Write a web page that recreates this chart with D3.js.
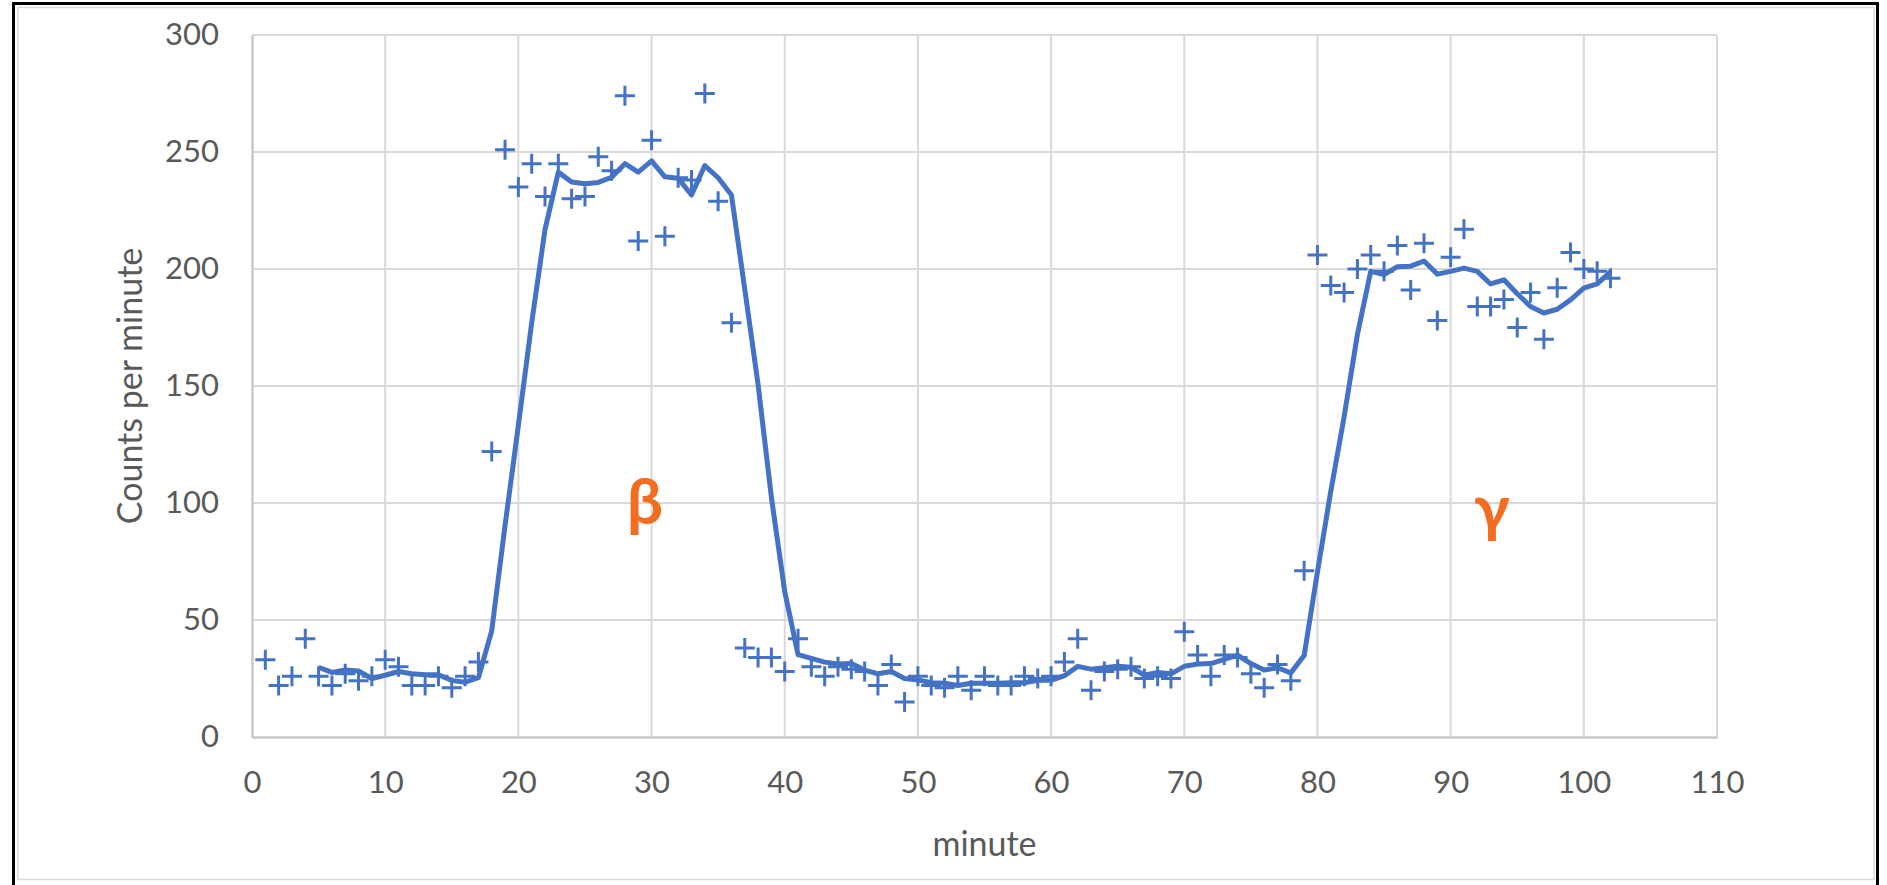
<!DOCTYPE html>
<html>
<head>
<meta charset="utf-8">
<script src="https://cdn.jsdelivr.net/npm/d3@7"></script>
<style>
  body { margin: 0; background: #fff; }
  svg { display: block; }
</style>
</head>
<body>
<svg id="svg"></svg>
<script>
// counts per minute
const minutes = [1, 2, 3, 4, 5, 6, 7, 8, 9, 10, 11, 12, 13, 14, 15, 16, 17, 18, 19, 20,
    21, 22, 23, 24, 25, 26, 27, 28, 29, 30, 31, 32, 33, 34, 35, 36, 37, 38, 39, 40,
    41, 42, 43, 44, 45, 46, 47, 48, 49, 50, 51, 52, 53, 54, 55, 56, 57, 58, 59, 60,
    61, 62, 63, 64, 65, 66, 67, 68, 69, 70, 71, 72, 73, 74, 75, 76, 77, 78, 79, 80,
    81, 82, 83, 84, 85, 86, 87, 88, 89, 90, 91, 92, 93, 94, 95, 96, 97, 98, 99, 100,
    101, 102];
const counts = [33, 22, 26, 42, 26, 22, 27, 24, 26, 33, 30, 22, 22, 26, 21, 26, 32, 122, 251, 235,
    245, 231, 245, 230, 231, 248, 242, 274, 212, 255, 214, 239, 238, 275, 229, 177, 38, 34, 34, 28,
    42, 30, 26, 30, 29, 28, 22, 31, 15, 26, 22, 21, 26, 20, 26, 22, 22, 26, 25, 26,
    32, 42, 20, 28, 29, 30, 25, 26, 25, 45, 35, 26, 35, 34, 27, 21, 31, 24, 71, 206,
    193, 190, 200, 206, 199, 210, 191, 211, 178, 205, 217, 184, 184, 187, 175, 190, 170, 192, 207, 200,
    199, 196];

// smoothed line (5 minute moving average trendline)
const avgMinutes = [5, 6, 7, 8, 9, 10, 11, 12, 13, 14, 15, 16, 17, 18, 19, 20,
    21, 22, 23, 24, 25, 26, 27, 28, 29, 30, 31, 32, 33, 34, 35, 36, 37, 38, 39, 40,
    41, 42, 43, 44, 45, 46, 47, 48, 49, 50, 51, 52, 53, 54, 55, 56, 57, 58, 59, 60,
    61, 62, 63, 64, 65, 66, 67, 68, 69, 70, 71, 72, 73, 74, 75, 76, 77, 78, 79, 80,
    81, 82, 83, 84, 85, 86, 87, 88, 89, 90, 91, 92, 93, 94, 95, 96, 97, 98, 99, 100,
    101, 102];
const avgCounts = [29.8, 27.6, 28.6, 28.2, 25.0, 26.4, 28.0, 27.0, 26.6, 26.6, 24.2, 23.4, 25.4, 45.4, 90.4, 133.2,
    177.0, 216.8, 241.4, 237.2, 236.4, 237.0, 239.2, 245.0, 241.4, 246.2, 239.4, 238.8, 231.6, 244.2, 239.0, 231.6, 191.4, 150.6, 102.4, 62.2,
    35.2, 33.6, 32.0, 31.2, 31.4, 28.6, 27.0, 28.0, 25.0, 24.4, 23.2, 23.0, 22.0, 23.0, 23.0, 23.0, 23.2, 23.2, 24.2, 24.2,
    26.2, 30.2, 29.0, 29.6, 30.2, 29.8, 26.4, 27.6, 27.0, 30.2, 31.2, 31.4, 33.2, 35.0, 31.4, 28.6, 29.6, 27.4, 34.8, 70.6,
    105.0, 136.8, 172.0, 199.0, 197.6, 201.0, 201.2, 203.4, 197.8, 199.0, 200.4, 199.0, 193.6, 195.4, 189.4, 184.0, 181.2, 182.8, 186.8, 191.8,
    193.6, 198.8];

const xTicks = [0, 10, 20, 30, 40, 50, 60, 70, 80, 90, 100, 110];
const yTicks = [0, 50, 100, 150, 200, 250, 300];

let svg = d3.select("#svg");
const width = 1887;
const height = 885;
const blue = "#4472C4";
const orange = "#F26D1F";
const font = "Lato, 'Open Sans', sans-serif";

function drawFrame() {
    svg.attr("width", width).attr("height", height);

    // outer black box (bottom edge is cropped off in the screenshot)
    svg.append("rect")
        .attr("x", 13.5)
        .attr("y", 3.5)
        .attr("width", 1864)
        .attr("height", 900)
        .attr("fill", "#fff")
        .attr("stroke", "#000")
        .attr("stroke-width", 3);

    // chart area border
    svg.append("rect")
        .attr("x", 18)
        .attr("y", 7.5)
        .attr("width", 1856)
        .attr("height", 872)
        .attr("fill", "none")
        .attr("stroke", "#d9d9d9")
        .attr("stroke-width", 1.5);
}

function drawChart() {
    const margin = { top: 35, right: 170, bottom: 148, left: 252 };
    let chartWidth = width - margin.left - margin.right;
    let chartHeight = height - margin.top - margin.bottom;

    let chart = svg.append("g")
        .attr("transform", "translate(" + margin.left + "," + margin.top + ")");

    let xScale = d3.scaleLinear()
        .domain([0, 110])
        .range([0, chartWidth]);

    let yScale = d3.scaleLinear()
        .domain([0, 300])
        .range([chartHeight, 0]);

    // gridlines
    chart.append("g")
        .selectAll("line")
        .data(xTicks.filter(d => d > 0))
        .enter().append("line")
        .attr("x1", d => xScale(d))
        .attr("x2", d => xScale(d))
        .attr("y1", 0)
        .attr("y2", chartHeight)
        .attr("stroke", "#d9d9d9")
        .attr("stroke-width", 2);

    chart.append("g")
        .selectAll("line")
        .data(yTicks.filter(d => d > 0))
        .enter().append("line")
        .attr("x1", 0)
        .attr("x2", chartWidth)
        .attr("y1", d => yScale(d))
        .attr("y2", d => yScale(d))
        .attr("stroke", "#d9d9d9")
        .attr("stroke-width", 2);

    // Add x-axis
    let xAxis = chart.append("g")
        .attr("class", "x-axis")
        .attr("transform", "translate(0," + chartHeight + ")")
        .call(d3.axisBottom(xScale).tickValues(xTicks).tickSize(0).tickPadding(34));

    // Add y-axis
    let yAxis = chart.append("g")
        .attr("class", "y-axis")
        .call(d3.axisLeft(yScale).tickValues(yTicks).tickSize(0).tickPadding(33));

    [xAxis, yAxis].forEach(a => {
        a.select(".domain").attr("stroke", "#c8c8c8").attr("stroke-width", 2.5);
        a.selectAll("text")
            .style("font-family", font)
            .style("font-size", "31px")
            .style("fill", "#595959");
    });

    // moving average line
    const avgLine = d3.line()
        .x((d, i) => xScale(avgMinutes[i]))
        .y(d => yScale(d));

    chart.append("path")
        .datum(avgCounts)
        .attr("d", avgLine)
        .attr("fill", "none")
        .attr("stroke", blue)
        .attr("stroke-width", 5)
        .attr("stroke-linejoin", "round");

    // plus markers
    chart.selectAll(".pt")
        .data(counts)
        .enter().append("path")
        .attr("class", "pt")
        .attr("transform", (d, i) => "translate(" + xScale(minutes[i]) + "," + yScale(d) + ")")
        .attr("d", "M-10,0H10M0,-10V10")
        .attr("stroke", blue)
        .attr("stroke-width", 3)
        .attr("fill", "none");

    // axis titles
    svg.append("text")
        .attr("text-anchor", "middle")
        .attr("x", margin.left + xScale(55))
        .attr("y", 856)
        .style("font-size", "34px")
        .style("fill", "#595959")
        .style("font-family", font)
        .text("minute");

    svg.append("text")
        .attr("text-anchor", "middle")
        .attr("transform", "rotate(-90)")
        .attr("x", -(margin.top + chartHeight / 2))
        .attr("y", 142)
        .style("font-size", "34px")
        .style("fill", "#595959")
        .style("font-family", font)
        .text("Counts per minute");

    // beta / gamma annotations
    chart.append("text")
        .attr("text-anchor", "middle")
        .attr("x", xScale(29.5))
        .attr("y", yScale(91))
        .style("font-size", "64px")
        .style("font-weight", "bold")
        .style("fill", orange)
        .style("font-family", font)
        .text("β");

    chart.append("text")
        .attr("text-anchor", "middle")
        .attr("x", xScale(93.1))
        .attr("y", yScale(88.5))
        .style("font-size", "64px")
        .style("font-weight", "bold")
        .style("fill", orange)
        .style("font-family", font)
        .text("γ");
}

drawFrame();
drawChart();
</script>
</body>
</html>
